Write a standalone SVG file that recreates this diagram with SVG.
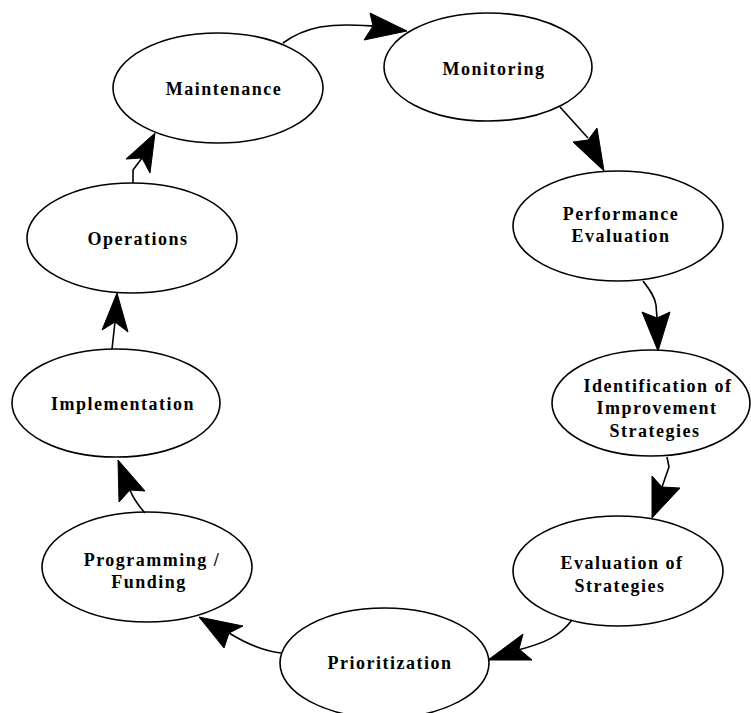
<svg xmlns="http://www.w3.org/2000/svg" width="751" height="713" viewBox="0 0 751 713">
<style>
.node ellipse{fill:#fff;stroke:#000;stroke-width:1.6}
.node text{font-family:"Liberation Serif","Times New Roman",serif;font-weight:bold;font-size:18px;letter-spacing:1.5px;text-anchor:middle;fill:#000}
.conn path{fill:none;stroke:#000;stroke-width:1.6}
.conn polygon{fill:#000;stroke:#000;stroke-width:1}
</style>
<rect width="751" height="713" fill="#fff"/>
<g id="maintenance" class="node"><ellipse cx="218" cy="88" rx="105" ry="55"/><text x="224" y="95">Maintenance</text></g>
<g id="monitoring" class="node"><ellipse cx="488" cy="67" rx="104" ry="54"/><text x="494" y="75">Monitoring</text></g>
<g id="performance" class="node"><ellipse cx="618" cy="226" rx="105" ry="55"/><text x="621" y="220">Performance</text><text x="621" y="242">Evaluation</text></g>
<g id="identification" class="node"><ellipse cx="651" cy="403" rx="99" ry="53"/><text x="658" y="392">Identification of</text><text x="657" y="414">Improvement</text><text x="655" y="437">Strategies</text></g>
<g id="evaluation" class="node"><ellipse cx="618" cy="571" rx="105" ry="55"/><text x="622" y="569">Evaluation of</text><text x="620" y="592">Strategies</text></g>
<g id="prioritization" class="node"><ellipse cx="384.5" cy="663" rx="104.5" ry="55"/><text x="390" y="669">Prioritization</text></g>
<g id="programming" class="node"><ellipse cx="147" cy="567" rx="105" ry="55"/><text x="152" y="566">Programming /</text><text x="149" y="588">Funding</text></g>
<g id="implementation" class="node"><ellipse cx="116" cy="403" rx="104" ry="54"/><text x="123" y="410">Implementation</text></g>
<g id="operations" class="node"><ellipse cx="132" cy="238" rx="105" ry="55"/><text x="138" y="245">Operations</text></g>
<g id="connectors" class="conn">
<path d="M283,43 C295,34 305,30 320,27 C340,24 355,25 373,26"/><polygon points="407,31 370,13 373,26 364,40"/>
<path d="M560,107 L588,138"/><polygon points="604,171 573,142 588,140 597,128"/>
<path d="M643,281 C650,290 655,297 656,305 L657,318"/><polygon points="658,351 642,312 657,318 670,312"/>
<path d="M667,457 L669,467 L662,487"/><polygon points="652,518 652,476 662,487 680,488"/>
<path d="M572,620 C560,636 545,643 518,650"/><polygon points="488,660 523,634 519,649 532,660"/>
<path d="M281,653 C265,651 250,646 229,633"/><polygon points="199,617 243,626 229,633 224,648"/>
<path d="M145,513 C138,505 133,498 130,490"/><polygon points="118,460 119,502 130,490 145,491"/>
<path d="M112,349 L115,322"/><polygon points="117,293 102,330 115,322 128,332"/>
<path d="M133,183 L133,170 L142,158"/><polygon points="155,133 126,159 142,158 150,173"/>
</g>
</svg>
